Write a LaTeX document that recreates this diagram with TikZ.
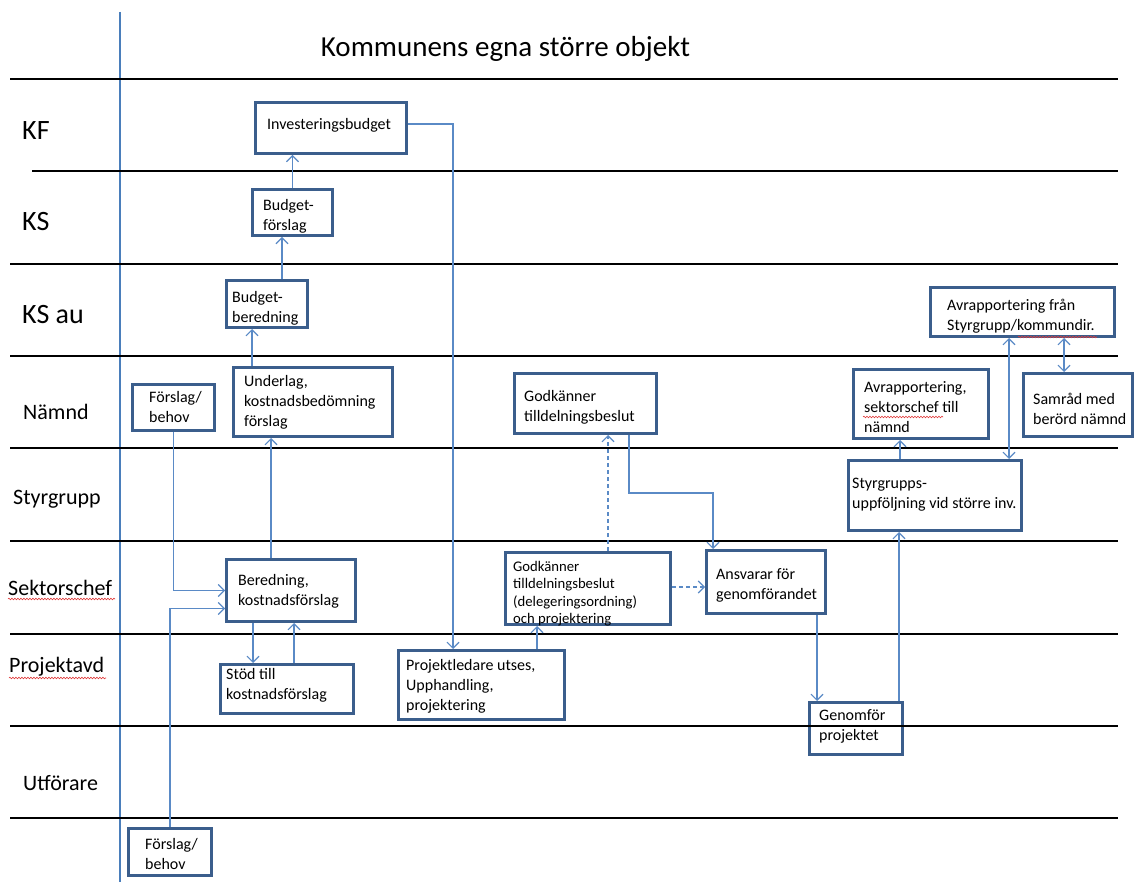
\documentclass[tikz,border=0pt]{standalone}
\usepackage{fontspec}
\setmainfont{Carlito}
\usetikzlibrary{arrows.meta,decorations.pathmorphing}
\definecolor{boxblue}{HTML}{3B5E8C}
\definecolor{linkblue}{HTML}{5A8AC6}
\definecolor{divblue}{HTML}{4A7EBB}
\definecolor{squig}{HTML}{E03A3A}
\begin{document}
\begin{tikzpicture}[x=1pt,y=-1pt,
  lane/.style={line width=2pt, black},
  box/.style={draw=boxblue, line width=3pt, fill=white, inner sep=0pt},
  txt/.style={anchor=west, align=left, inner sep=0pt, font=\fontsize{16}{20}\selectfont},
  smalltxt/.style={anchor=west, align=left, inner sep=0pt, font=\fontsize{14.7}{17.5}\selectfont},
  lbig/.style={anchor=base west, inner sep=0pt, font=\fontsize{28}{32}\selectfont},
  lsmall/.style={anchor=base west, inner sep=0pt, font=\fontsize{22}{26}\selectfont},
  link/.style={draw=linkblue, line width=1.1pt, -{Straight Barb[length=6pt,width=12pt]}},
  dlink/.style={draw=linkblue, line width=1.1pt, {Straight Barb[length=6pt,width=12pt]}-{Straight Barb[length=6pt,width=12pt]}},
  dashlink/.style={link, dash pattern=on 4pt off 3pt},
  squiggle/.style={draw=squig, line width=0.6pt, decorate, decoration={snake, amplitude=0.8pt, segment length=3pt}}
]
\useasboundingbox (0,0) rectangle (1136,882);
\fill[white] (0,0) rectangle (1136,882);

% divider
\draw[divblue, line width=1.2pt] (120,12) -- (120,882);

% title
\node[anchor=base, inner sep=0pt, font=\fontsize{29}{34}\selectfont] (title) at (505.5,57) {Kommunens egna större objekt};

% lane labels
\node[lbig] (lkf) at (22,140) {KF};
\node[lbig] (lks) at (22,231) {KS};
\node[lbig] (lksau) at (22,324) {KS au};
\node[lsmall] (lnamnd) at (23,420) {Nämnd};
\node[lsmall] (lstyr) at (13,504) {Styrgrupp};
\node[lsmall] (lsekt) at (8,595) {Sektorschef};
\node[lsmall] (lproj) at (9,672) {Projektavd};
\node[lsmall] (lutf) at (23,790) {Utförare};

% boxes
\node[box, minimum width=151, minimum height=51] (inv) at (331,128) {};
\node[box, minimum width=80, minimum height=46] (bf) at (292.5,212.5) {};
\node[box, minimum width=81, minimum height=47] (bb) at (267,304) {};
\node[box, minimum width=82, minimum height=46] (fb1) at (173.5,407.5) {};
\node[box, minimum width=159, minimum height=69] (und) at (313,402) {};
\node[box, minimum width=129, minimum height=62] (ber) at (291,590.5) {};
\node[box, minimum width=133, minimum height=49] (stod) at (287,689) {};
\node[box, minimum width=166, minimum height=69] (proj) at (481.5,685) {};
\node[box, minimum width=142, minimum height=60] (god1) at (585.5,403.5) {};
\node[box, minimum width=165, minimum height=72] (god2) at (588,588.5) {};
\node[box, minimum width=119, minimum height=63] (ans) at (766,582) {};
\node[box, minimum width=93, minimum height=52] (gen) at (856,728.5) {};
\node[box, minimum width=184, minimum height=49] (avf) at (1022.5,312) {};
\node[box, minimum width=135, minimum height=69] (avs) at (921,404) {};
\node[box, minimum width=109, minimum height=63] (sam) at (1078,405) {};
\node[box, minimum width=173, minimum height=70] (sty) at (935,495.5) {};
\node[box, minimum width=83, minimum height=47] (fb2) at (170,852) {};

% box texts
\node[txt] (inv-t) at (267,125.5) {Investeringsbudget};
\node[txt] (bf-t) at (263,216.5) {Budget-\\förslag};
\node[txt] (bb-t) at (232,308.5) {Budget-\\beredning};
\node[txt] (fb1-t) at (149,407.5) {Förslag/\\behov};
\node[txt] (und-t) at (244,402.5) {Underlag,\\kostnadsbedömning\\förslag};
\node[txt] (ber-t) at (238,591.5) {Beredning,\\kostnadsförslag};
\node[txt] (stod-t) at (226,685) {Stöd till\\kostnadsförslag};
\node[txt] (proj-t) at (406,686.5) {Projektledare utses,\\Upphandling,\\projektering};
\node[txt] (god1-t) at (524,407.5) {Godkänner\\tilldelningsbeslut};
\node[smalltxt] (god2-t) at (513,593.5) {Godkänner\\tilldelningsbeslut\\(delegeringsordning)\\och projektering};
\node[txt] (ans-t) at (716,585) {Ansvarar för\\genomförandet};
\node[txt] (gen-t) at (819,726) {Genomför\\projektet};
\node[txt] (avf-t) at (947,316) {Avrapportering från\\Styrgrupp/kommundir.};
\node[txt] (avs-t) at (864,407) {Avrapportering,\\sektorschef till\\nämnd};
\node[txt] (sam-t) at (1033,409) {Samråd med\\berörd nämnd};
\node[txt] (sty-t) at (852,495) {Styrgrupps-\\uppföljning vid större inv.};
\node[txt] (fb2-t) at (145,854) {Förslag/\\behov};

% lane lines
\foreach \yy in {79,264,356,448,541,634,726,818} {\draw[lane] (10,\yy) -- (1118,\yy);}
\draw[lane] (32,171) -- (1118,171);

% spell-check squiggles
\draw[squiggle] (8,599) -- (115,599);
\draw[squiggle] (9,678) -- (106,678);
\draw[squiggle] (863,417) -- (943,417);
\draw[squiggle] (1018,337) -- (1097,337);

% connectors
\draw[link] ([yshift=4]inv.east) -| ([xshift=-28.5]proj.north);
\draw[link] (bf.north) -- (bf.north |- inv.south);
\draw[link] ([xshift=15]bb.north) -- ([xshift=15]bb.north |- bf.south);
\draw[link] ([xshift=-61]und.north) -- ([xshift=-61]und.north |- bb.south);
\draw[link] ([xshift=-20]ber.north) -- ([xshift=-20]ber.north |- und.south);
\draw[link] (fb1.south) |- (ber.west);
\draw[link] (fb2.north) |- ([yshift=-18]ber.west);
\draw[link] ([xshift=-38]ber.south) -- ([xshift=-38]ber.south |- stod.north);
\draw[link] ([xshift=7]stod.north) -- ([xshift=7]stod.north |- ber.south);
\draw[link] ([xshift=55.5]proj.north) -- ([xshift=55.5]proj.north |- god2.south);
\draw[dashlink] ([xshift=20]god2.north) -- ([xshift=20]god2.north |- god1.south);
\draw[dashlink] ([yshift=1.5]god2.east) -- ([yshift=1.5]god2.east -| ans.west);
\draw[link] ([xshift=43.5]god1.south) -- ++(0,58) -| ([xshift=-53]ans.north);
\draw[link] ([xshift=51]ans.south) -- ([xshift=51]ans.south |- gen.north);
\draw[link] ([xshift=43]gen.north) -- ([xshift=43]gen.north |- sty.south);
\draw[link] ([xshift=-35]sty.north) -- ([xshift=-35]sty.north |- avs.south);
\draw[dlink] ([xshift=-13.5]avf.south) -- ([xshift=-13.5]avf.south |- sty.north);
\draw[dlink] ([xshift=41.5]avf.south) -- ([xshift=41.5]avf.south |- sam.north);
\end{tikzpicture}
\end{document}
